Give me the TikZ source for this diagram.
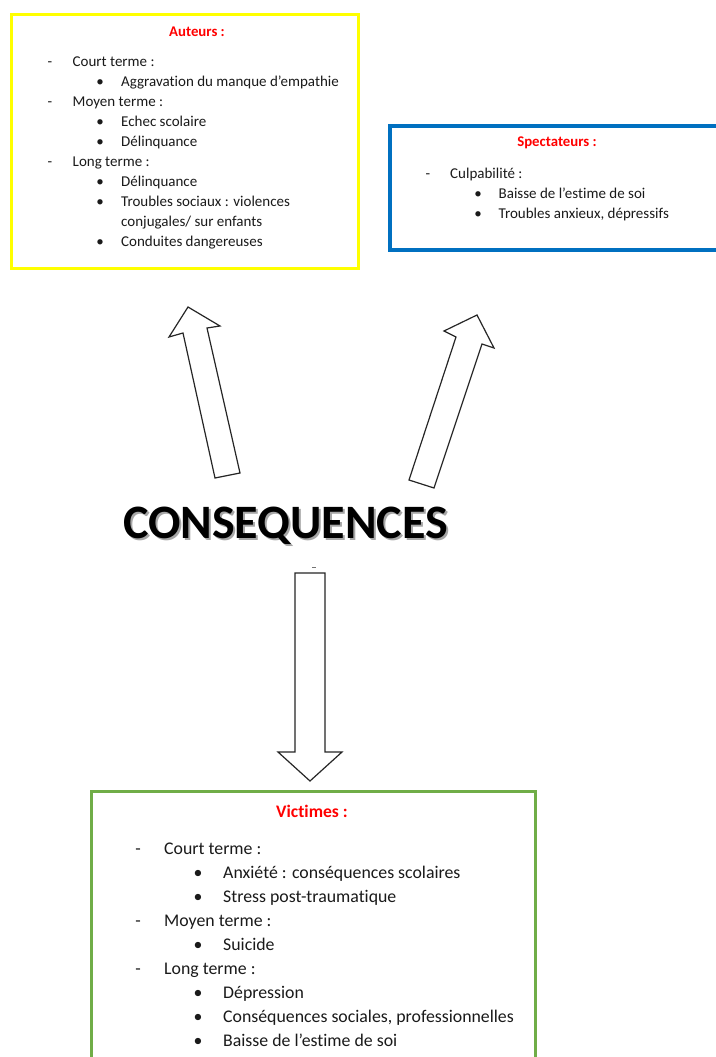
\documentclass[tikz,border=0pt]{standalone}
\usepackage{fontspec}
\setmainfont[Ligatures={NoCommon}]{Carlito}
\definecolor{boxyellow}{HTML}{FFFF00}
\definecolor{boxblue}{HTML}{0070C0}
\definecolor{boxgreen}{HTML}{70AD47}
\definecolor{headred}{HTML}{FF0000}
\definecolor{txtgray}{HTML}{1A1A1A}
\begin{document}
\begin{tikzpicture}[x=1pt,y=-1pt,
  frame/.style={line width=3.5pt},
  blockarrow/.style={draw=black!85, line width=1.2pt, fill=white, line join=miter},
  sm/.style={anchor=base west, inner sep=0pt, text=txtgray, font=\fontsize{15}{18}\selectfont},
  smb/.style={anchor=base, inner sep=0pt, text=txtgray, font=\fontsize{15}{18}\selectfont},
  smhead/.style={anchor=base, inner sep=0pt, text=headred, font=\fontsize{14.8}{18}\selectfont\bfseries},
  lg/.style={anchor=base west, inner sep=0pt, text=txtgray, font=\fontsize{17.8}{21}\selectfont},
  lgb/.style={anchor=base, inner sep=0pt, text=txtgray, font=\fontsize{17.8}{21}\selectfont},
  lghead/.style={anchor=base, inner sep=0pt, text=headred, font=\fontsize{17.6}{21}\selectfont\bfseries},
  title/.style={inner sep=0pt, font=\fontsize{48}{54}\selectfont\bfseries}
]
\useasboundingbox (0,0) rectangle (715,1057);
\fill[white] (0,0) rectangle (715,1057);

% Boxes
\draw[frame, draw=boxyellow] (11.5,14.5) rectangle (358.5,268.5);
\draw[frame, draw=boxblue] (390,126) rectangle (725,250);
\draw[frame, draw=boxgreen] (91.5,791.5) rectangle (535.5,1070);

% Auteurs
\node[smhead] (ah) at (197,36.5) {Auteurs :};
\node[smb] (ad1) at (50,66.5) {-};
\node[sm] (a1) at (72.5,66.5) {Court terme :};
\node[smb] (ab1) at (100,86.5) {•};
\node[sm] (a2) at (121,86.5) {Aggravation du manque d’empathie};
\node[smb] (ad2) at (50,106.5) {-};
\node[sm] (a3) at (72.5,106.5) {Moyen terme :};
\node[smb] (ab2) at (100,126.5) {•};
\node[sm] (a4) at (121,126.5) {Echec scolaire};
\node[smb] (ab3) at (100,146.5) {•};
\node[sm] (a5) at (121,146.5) {Délinquance};
\node[smb] (ad3) at (50,166.5) {-};
\node[sm] (a6) at (72.5,166.5) {Long terme :};
\node[smb] (ab4) at (100,186.5) {•};
\node[sm] (a7) at (121,186.5) {Délinquance};
\node[smb] (ab5) at (100,206.5) {•};
\node[sm] (a8) at (121,206.5) {Troubles sociaux : violences};
\node[sm] (a9) at (121,226.5) {conjugales/ sur enfants};
\node[smb] (ab6) at (100,246.5) {•};
\node[sm] (a10) at (121,246.5) {Conduites dangereuses};

% Spectateurs
\node[smhead] (sh) at (557,146) {Spectateurs :};
\node[smb] (sd1) at (428,178) {-};
\node[sm] (s1) at (450,178) {Culpabilité :};
\node[smb] (sb1) at (478,198) {•};
\node[sm] (s2) at (498.5,198) {Baisse de l’estime de soi};
\node[smb] (sb2) at (478,218) {•};
\node[sm] (s3) at (498.5,218) {Troubles anxieux, dépressifs};

% Victimes
\node[lghead] (vh) at (312,817) {Victimes :};
\node[lgb] (vd1) at (138,854) {-};
\node[lg] (v1) at (164,854) {Court terme :};
\node[lgb] (vb1) at (198,878) {•};
\node[lg] (v2) at (223,878) {Anxiété : conséquences scolaires};
\node[lgb] (vb2) at (198,902) {•};
\node[lg] (v3) at (223,902) {Stress post-traumatique};
\node[lgb] (vd2) at (138,926) {-};
\node[lg] (v4) at (164,926) {Moyen terme :};
\node[lgb] (vb3) at (198,950) {•};
\node[lg] (v5) at (223,950) {Suicide};
\node[lgb] (vd3) at (138,974) {-};
\node[lg] (v6) at (164,974) {Long terme :};
\node[lgb] (vb4) at (198,998) {•};
\node[lg] (v7) at (223,998) {Dépression};
\node[lgb] (vb5) at (198,1022) {•};
\node[lg] (v8) at (223,1022) {Conséquences sociales, professionnelles};
\node[lgb] (vb6) at (198,1046) {•};
\node[lg] (v9) at (223,1046) {Baisse de l’estime de soi};

% Title with shadow
\node[title, text=black!35] (tshadow) at (287.5,527.5) {CONSEQUENCES};
\node[title, text=black] (title) at (285.5,525.5) {CONSEQUENCES};

% small mark above down arrow
\draw[black!55, line width=0.8pt] (312,567.5) -- (316,567.5);

% Block arrows
\draw[blockarrow] (215,478) -- (183,333) -- (169,337) -- (188,307) -- (220,326) -- (207,328) -- (240,473) -- cycle;
\draw[blockarrow] (409,480) -- (456,337) -- (444,331) -- (477,315) -- (494,348) -- (482,344) -- (434,488) -- cycle;
\draw[blockarrow] (295,573) -- (325,573) -- (325,752) -- (342,752) -- (310,781) -- (278,752) -- (295,752) -- cycle;
\end{tikzpicture}
\end{document}
